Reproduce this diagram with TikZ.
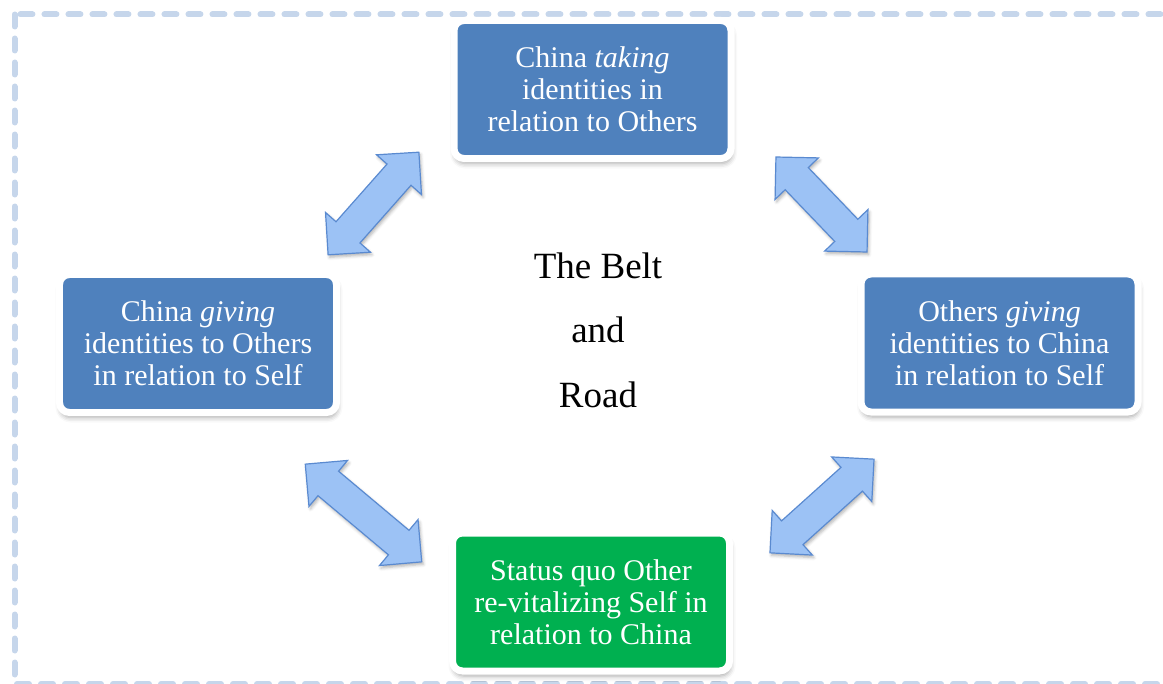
\documentclass[tikz,border=0pt]{standalone}
\usepackage{fontspec}
\setmainfont{Liberation Serif}
\usetikzlibrary{shadows,shadows.blur}

\definecolor{boxblue}{HTML}{4F81BD}
\definecolor{boxgreen}{HTML}{00B050}
\definecolor{arrowfill}{HTML}{9CC2F5}
\definecolor{arrowline}{HTML}{5A8AD0}
\definecolor{framecol}{HTML}{C6D6EB}

\tikzset{
  idbox/.style={
    draw=white, line width=7bp, rounded corners=10bp,
    minimum width=277bp, minimum height=138bp, inner sep=0pt,
    align=center, text=white,
    font=\fontsize{30bp}{32bp}\selectfont,
    blur shadow={shadow xshift=1bp, shadow yshift=-5bp,
                 shadow blur radius=5bp, shadow opacity=35}
  },
  bluebox/.style={idbox, fill=boxblue},
  greenbox/.style={idbox, fill=boxgreen},
  arrowshape/.style={
    fill=arrowfill, draw=arrowline, line width=1.2bp, line join=miter,
    blur shadow={shadow xshift=1.5bp, shadow yshift=-2.5bp,
                 shadow blur radius=3bp, shadow opacity=30}
  },
  % two-headed block arrow along the local x axis; #1 = half length
  pics/dblarrow/.style={code={
    \path[arrowshape]
      (-#1,0) -- ++(30,-30) -- ++(0,14) -- (#1-30,-16) -- ++(0,-14)
      -- (#1,0) -- ++(-30,30) -- ++(0,-14) -- (-#1+30,16) -- ++(0,14)
      -- cycle;
  }}
}

\begin{document}
\begin{tikzpicture}[x=1bp,y=-1bp]
  \useasboundingbox (0,0) rectangle (1163,684);
  \clip (0,0) rectangle (1163,684);

  % dashed outer frame
  \draw[framecol, line width=6bp, line cap=round, dash pattern=on 12bp off 12bp]
    (14.5,14.5) rectangle (1190,684);

  % four identity boxes
  \node[bluebox]  (taking) at (592.5,89.5) {China \textit{taking}\\identities in\\relation to Others};
  \node[bluebox]  (chinagiving) at (198,343.5) {China \textit{giving}\\identities to Others\\in relation to Self};
  \node[bluebox]  (othersgiving) at (999.5,343) {Others \textit{giving}\\identities to China\\in relation to Self};
  \node[greenbox] (statusquo) at (591,602) {Status quo Other\\re-vitalizing Self in\\relation to China};

  % centre title (base anchor sits on the last line)
  \node[font=\fontsize{37bp}{64.5bp}\selectfont, align=center, anchor=base]
    (bri) at (598,407) {The Belt\\and\\Road};

  % double-headed block arrows between neighbouring boxes
  \coordinate (a1) at (373.5,203.5);
  \coordinate (a2) at (821.5,204.5);
  \coordinate (a3) at (363.5,513);
  \coordinate (a4) at (822,506);
  \pic[rotate=48.5]  at (a1) {dblarrow=68.5};
  \pic[rotate=-46.2] at (a2) {dblarrow=65.8};
  \pic[rotate=-40]   at (a3) {dblarrow=76};
  \pic[rotate=42]    at (a4) {dblarrow=70};
\end{tikzpicture}
\end{document}
